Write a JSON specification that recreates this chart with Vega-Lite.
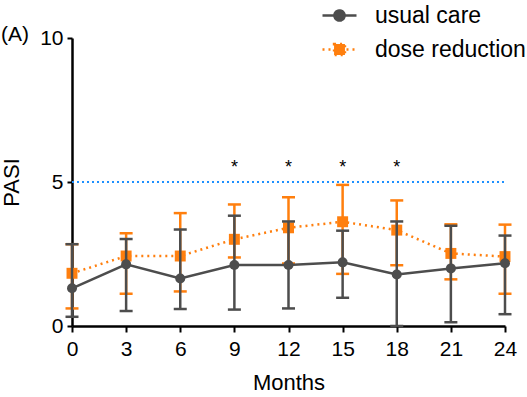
{
  "$schema": "https://vega.github.io/schema/vega-lite/v6.json",
  "autosize": "none",
  "width": 433,
  "height": 288,
  "padding": {"left": 72, "top": 38, "right": 22, "bottom": 71},
  "background": "white",
  "config": {
    "font": "Liberation Sans",
    "view": {"stroke": null},
    "title": {"fontSize": 21, "fontWeight": "normal", "color": "black", "font": "Liberation Sans"},
    "axis": {"grid": false, "domainColor": "black", "domainWidth": 2.5, "tickColor": "black", "tickWidth": 2, "labelColor": "black", "titleColor": "black", "labelFont": "Liberation Sans", "titleFont": "Liberation Sans", "titleFontWeight": "normal"}
  },
  "title": {"text": "(A)", "anchor": "start", "frame": "group", "dx": -71, "dy": 52, "fontSize": 21, "fontWeight": "normal", "color": "black", "font": "Liberation Sans"},
  "datasets": {
    "pts": [
      {"month": 0, "series": "usual care", "mean": 1.31, "lo": 0.32, "hi": 2.84},
      {"month": 3, "series": "usual care", "mean": 2.14, "lo": 0.52, "hi": 3.02},
      {"month": 6, "series": "usual care", "mean": 1.65, "lo": 0.59, "hi": 3.35},
      {"month": 9, "series": "usual care", "mean": 2.12, "lo": 0.57, "hi": 3.83},
      {"month": 12, "series": "usual care", "mean": 2.12, "lo": 0.61, "hi": 3.63},
      {"month": 15, "series": "usual care", "mean": 2.21, "lo": 0.98, "hi": 3.31},
      {"month": 18, "series": "usual care", "mean": 1.79, "lo": 0.0, "hi": 3.63},
      {"month": 21, "series": "usual care", "mean": 2.0, "lo": 0.13, "hi": 3.48},
      {"month": 24, "series": "usual care", "mean": 2.18, "lo": 0.41, "hi": 3.14},
      {"month": 0, "series": "dose reduction", "mean": 1.83, "lo": 0.61, "hi": 2.84},
      {"month": 3, "series": "dose reduction", "mean": 2.43, "lo": 1.12, "hi": 3.22},
      {"month": 6, "series": "dose reduction", "mean": 2.43, "lo": 1.2, "hi": 3.92},
      {"month": 9, "series": "dose reduction", "mean": 3.01, "lo": 2.38, "hi": 4.22},
      {"month": 12, "series": "dose reduction", "mean": 3.41, "lo": 2.17, "hi": 4.47},
      {"month": 15, "series": "dose reduction", "mean": 3.62, "lo": 1.81, "hi": 4.9},
      {"month": 18, "series": "dose reduction", "mean": 3.33, "lo": 2.11, "hi": 4.36},
      {"month": 21, "series": "dose reduction", "mean": 2.52, "lo": 1.62, "hi": 3.53},
      {"month": 24, "series": "dose reduction", "mean": 2.41, "lo": 1.12, "hi": 3.52}
    ],
    "stars": [
      {"month": 9, "y": 5.66, "label": "*"},
      {"month": 12, "y": 5.66, "label": "*"},
      {"month": 15, "y": 5.66, "label": "*"},
      {"month": 18, "y": 5.66, "label": "*"}
    ]
  },
  "data": {"name": "pts"},
  "encoding": {
    "x": {"field": "month", "type": "quantitative", "scale": {"domain": [0, 24], "nice": false, "zero": false},
      "axis": {"values": [0, 3, 6, 9, 12, 15, 18, 21, 24], "title": "Months", "labelFontSize": 21, "titleFontSize": 22, "tickSize": 6, "labelPadding": 6, "titlePadding": 13, "labelFlush": false}},
    "y": {"type": "quantitative", "scale": {"domain": [0, 10], "nice": false},
      "axis": {"values": [0, 5, 10], "title": "PASI", "labelFontSize": 21, "titleFontSize": 22, "tickSize": 5, "labelPadding": 4, "titlePadding": 16}}
  },
  "layer": [
    {"mark": {"type": "rule", "color": "#1e90ff", "strokeWidth": 2, "strokeDash": [2, 3]}, "encoding": {"x": {"datum": 0}, "x2": {"datum": 24}, "y": {"datum": 5}}},
    {"transform": [{"filter": "datum.series === 'dose reduction'"}], "mark": {"type": "rule", "color": "#ff7f0e", "strokeWidth": 2.5}, "encoding": {"y": {"field": "lo"}, "y2": {"field": "hi"}}},
    {"transform": [{"filter": "datum.series === 'dose reduction'"}, {"fold": ["lo", "hi"], "as": ["end", "val"]}], "mark": {"type": "tick", "orient": "horizontal", "color": "#ff7f0e", "size": 13, "thickness": 2.5, "opacity": 1}, "encoding": {"y": {"field": "val"}}},
    {"transform": [{"filter": "datum.series === 'dose reduction'"}], "mark": {"type": "line", "color": "#ff7f0e", "strokeWidth": 2.5, "strokeDash": [2, 4]}, "encoding": {"y": {"field": "mean"}}},
    {"transform": [{"filter": "datum.series === 'dose reduction'"}], "mark": {"type": "point", "shape": "square", "filled": true, "opacity": 1, "color": "#ff7f0e", "size": 120}, "encoding": {"y": {"field": "mean"}}},
    {"transform": [{"filter": "datum.series === 'usual care'"}], "mark": {"type": "rule", "color": "#4d4d4d", "strokeWidth": 2.5}, "encoding": {"y": {"field": "lo"}, "y2": {"field": "hi"}}},
    {"transform": [{"filter": "datum.series === 'usual care'"}, {"fold": ["lo", "hi"], "as": ["end", "val"]}], "mark": {"type": "tick", "orient": "horizontal", "color": "#4d4d4d", "size": 13, "thickness": 2.5, "opacity": 1}, "encoding": {"y": {"field": "val"}}},
    {"transform": [{"filter": "datum.series === 'usual care'"}], "mark": {"type": "line", "color": "#4d4d4d", "strokeWidth": 2.5}, "encoding": {"y": {"field": "mean"}}},
    {"transform": [{"filter": "datum.series === 'usual care'"}], "mark": {"type": "point", "shape": "circle", "filled": true, "opacity": 1, "color": "#4d4d4d", "size": 100}, "encoding": {"y": {"field": "mean"}}},
    {"data": {"name": "stars"}, "mark": {"type": "text", "fontSize": 18, "color": "black", "baseline": "middle", "dy": 5}, "encoding": {"y": {"field": "y"}, "text": {"field": "label"}}},
    {"transform": [{"filter": "false"}], "mark": {"type": "point", "filled": true, "opacity": 1, "size": 1156, "strokeWidth": 2.5},
      "encoding": {
        "y": {"field": "mean"},
        "color": {"field": "series", "type": "nominal", "scale": {"domain": ["usual care", "dose reduction"], "range": ["#4d4d4d", "#ff7f0e"]},
          "legend": {"title": null, "orient": "none", "legendX": 249, "legendY": -41, "symbolSize": 1156, "symbolStrokeWidth": 2.5, "labelFontSize": 23, "labelColor": "black", "labelFont": "Liberation Sans", "labelOffset": 17, "rowPadding": 3, "symbolOpacity": 1, "labelLimit": 200}},
        "stroke": {"field": "series", "type": "nominal", "scale": {"domain": ["usual care", "dose reduction"], "range": ["#4d4d4d", "#ff7f0e"]}},
        "shape": {"field": "series", "type": "nominal", "scale": {"domain": ["usual care", "dose reduction"], "range": ["M-1,0H1M0.3,0A0.3,0.3 0 1 1 -0.3,0A0.3,0.3 0 1 1 0.3,0Z", "M-1,0H1M-0.32,-0.32H0.32V0.32H-0.32Z"]}},
        "strokeDash": {"field": "series", "type": "nominal", "scale": {"domain": ["usual care", "dose reduction"], "range": [[1, 0], [2, 4]]}}
      }}
  ]
}
